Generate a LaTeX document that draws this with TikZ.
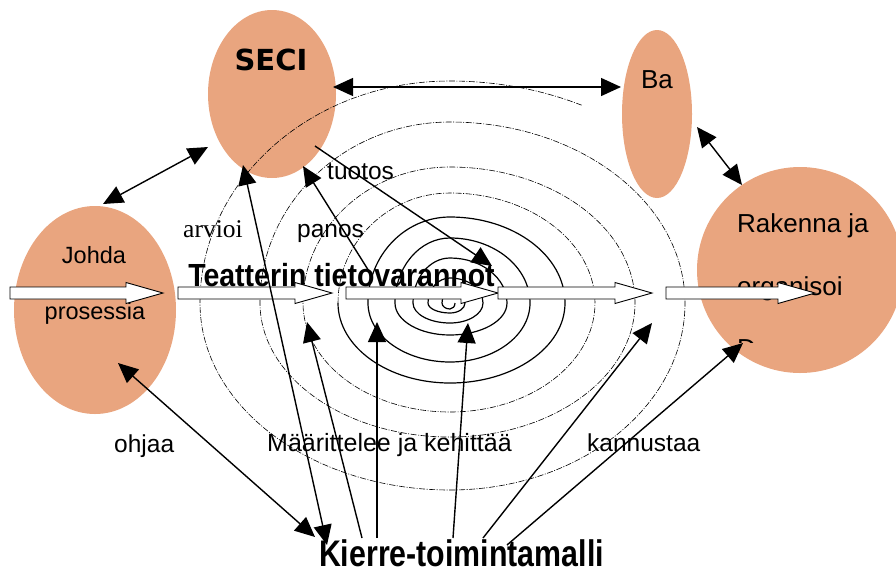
\documentclass[tikz,border=0pt]{standalone}
\usepackage{fontspec}
\setmainfont{Liberation Sans}
\newfontfamily\timesfont{Liberation Serif}
\newfontfamily\verdanafont{DejaVu Sans}
\usetikzlibrary{shapes.geometric,arrows.meta}
\definecolor{salmon}{RGB}{233,165,127}
\newcommand\fsz[1]{\fontsize{#1}{#1}\selectfont}

\begin{document}
\begin{tikzpicture}[x=1pt,y=-1pt,
  blob/.style={ellipse, fill=salmon, draw=none, inner sep=0},
  txt/.style={anchor=base, inner sep=0},
  lbl/.style={anchor=base west, inner sep=0, font=\fsz{24.5}},
  ring/.style={line width=1.2pt},
  faint/.style={line width=0.6pt, dash pattern=on 6pt off 1.5pt on 1pt off 1.5pt},
  hollow/.style={draw=black, fill=white, line width=0.9pt, line join=miter},
  tip/.tip={Triangle[length=20pt,width=18pt]},
  conn/.style={line width=1.4pt, -tip},
  both/.style={line width=1.4pt, tip-tip},
]
\useasboundingbox (0,0) rectangle (896,574);

% the four themes
\node[blob, minimum width=128pt, minimum height=168pt] (seci) at (272,94) {};
\node[blob, minimum width=70pt,  minimum height=168pt] (ba) at (657,114) {};
\node[blob, minimum width=162pt, minimum height=208pt] (johda) at (95,310) {};
\node[blob, minimum width=206pt, minimum height=206pt] (rak) at (800,270) {};

% texts
\node[txt, font=\verdanafont\bfseries\fsz{29}] (secit) at (271,70) {SECI};
\node[txt, font=\fsz{26}] (bat) at (657,88) {Ba};
\node[txt, font=\fsz{23.5}] (johdat) at (94,263) {Johda};
\node[txt, font=\fsz{23.5}] (prost) at (95,319) {prosessia};
\node[lbl, font=\fsz{26}] (rakt1) at (737,232) {Rakenna ja};
\node[lbl, font=\fsz{26}] (rakt2) at (737,295) {organisoi};
\begin{scope}
  \clip (728,333) rectangle (762,342);
  \node[lbl, font=\fsz{26}] (rakt3) at (737,357) {D};
\end{scope}
\node[lbl, font=\timesfont\fsz{25.5}] (arv) at (183,237) {arvioi};
\node[lbl] (panos) at (297,237) {panos};
\node[lbl] (tuotos) at (327,179) {tuotos};
\node[lbl] (ohjaa) at (114,452) {ohjaa};
\node[lbl, font=\fsz{25}] (maar) at (267,451) {Määrittelee ja kehittää};
\node[lbl] (kann) at (587,451) {kannustaa};
\node[txt, font=\bfseries\fsz{32}] (tieto) at (341.5,286) {\scalebox{0.89}[1]{Teatterin tietovarannot}};
\node[txt, text depth=0pt, font=\bfseries\fsz{37}] (kierre) at (461.5,566) {\scalebox{0.82}[1]{Kierre-toimintamalli}};

% the spiral: solid inner turns
\draw[ring] (455,303)
  arc[start angle=0,end angle=90,x radius=5,y radius=6]
  arc[start angle=90,end angle=180,x radius=8,y radius=6]
  arc[start angle=180,end angle=270,x radius=8,y radius=13]
  arc[start angle=270,end angle=360,x radius=15,y radius=13]
  arc[start angle=0,end angle=90,x radius=15,y radius=10]
  arc[start angle=90,end angle=180,x radius=22,y radius=10]
  arc[start angle=180,end angle=270,x radius=22,y radius=25]
  arc[start angle=270,end angle=360,x radius=33,y radius=25]
  arc[start angle=0,end angle=90,x radius=33,y radius=20]
  arc[start angle=90,end angle=180,x radius=37,y radius=20]
  arc[start angle=180,end angle=270,x radius=37,y radius=45]
  arc[start angle=270,end angle=360,x radius=57,y radius=45]
  arc[start angle=0,end angle=90,x radius=57,y radius=32]
  arc[start angle=90,end angle=180,x radius=55,y radius=32]
  arc[start angle=180,end angle=270,x radius=55,y radius=65]
  arc[start angle=270,end angle=360,x radius=80,y radius=65]
  arc[start angle=0,end angle=90,x radius=80,y radius=59]
  arc[start angle=90,end angle=180,x radius=82,y radius=59]
  arc[start angle=180,end angle=270,x radius=82,y radius=86]
  arc[start angle=270,end angle=360,x radius=115,y radius=86]
  arc[start angle=0,end angle=90,x radius=115,y radius=80]
  arc[start angle=90,end angle=180,x radius=112,y radius=80];
% the spiral: dash-dotted outer turns
\draw[faint] (338,303)
  arc[start angle=180,end angle=270,x radius=112,y radius=110]
  arc[start angle=270,end angle=360,x radius=145,y radius=110]
  arc[start angle=0,end angle=90,x radius=145,y radius=109]
  arc[start angle=90,end angle=180,x radius=147,y radius=109]
  arc[start angle=180,end angle=270,x radius=147,y radius=136]
  arc[start angle=270,end angle=360,x radius=185,y radius=136]
  arc[start angle=0,end angle=90,x radius=185,y radius=134]
  arc[start angle=90,end angle=180,x radius=190,y radius=134]
  arc[start angle=180,end angle=270,x radius=190,y radius=181]
  arc[start angle=270,end angle=360,x radius=235,y radius=181]
  arc[start angle=0,end angle=90,x radius=235,y radius=187]
  arc[start angle=90,end angle=180,x radius=250,y radius=187]
  arc[start angle=180,end angle=270,x radius=250,y radius=222]
  arc[start angle=270,end angle=297,x radius=290,y radius=222];

% hollow flow arrows
\foreach \a/\b in {10/163, 178/332, 346/498, 498/652, 666/815}
  \draw[hollow] (\a,287) -- (\b-37,287) -- (\b-37,282.5) -- (\b,293)
    -- (\b-37,303.5) -- (\b-37,299) -- (\a,299) -- cycle;

% connector ends
\coordinate (seci-e) at (333,87);
\coordinate (ba-w) at (621,87);
\coordinate (johda-n) at (103,204);
\coordinate (seci-sw) at (208,147);
\coordinate (ba-se) at (697,127);
\coordinate (rak-nw) at (742,185);
\coordinate (johda-se) at (118,363);
\coordinate (kierre-a) at (315,537);
\coordinate (seci-s) at (243,165);
\coordinate (kierre-b) at (327,545);
\coordinate (tieto-a) at (372,276);
\coordinate (seci-se) at (303,166);
\coordinate (seci-r) at (315,146);
\coordinate (tieto-b) at (492,266);
\coordinate (kierre-c) at (362,538);
\coordinate (spiral-a) at (307,322);
\coordinate (kierre-d) at (377,538);
\coordinate (spiral-b) at (377,322);
\coordinate (kierre-e) at (453,538);
\coordinate (spiral-c) at (468,323);
\coordinate (kierre-f) at (483,538);
\coordinate (spiral-d) at (652,323);
\coordinate (kierre-g) at (507,545);
\coordinate (rak-sw) at (743,343);

% connectors
\draw[both] (seci-e) -- (ba-w);
\draw[both] (johda-n) -- (seci-sw);
\draw[both] (ba-se) -- (rak-nw);
\draw[both] (johda-se) -- (kierre-a);
\draw[both] (seci-s) -- (kierre-b);
\draw[conn] (tieto-a) -- (seci-se);
\draw[conn] (seci-r) -- (tieto-b);
\draw[conn] (kierre-c) -- (spiral-a);
\draw[conn] (kierre-d) -- (spiral-b);
\draw[conn] (kierre-e) -- (spiral-c);
\draw[conn] (kierre-f) -- (spiral-d);
\draw[conn] (kierre-g) -- (rak-sw);
\end{tikzpicture}
\end{document}
